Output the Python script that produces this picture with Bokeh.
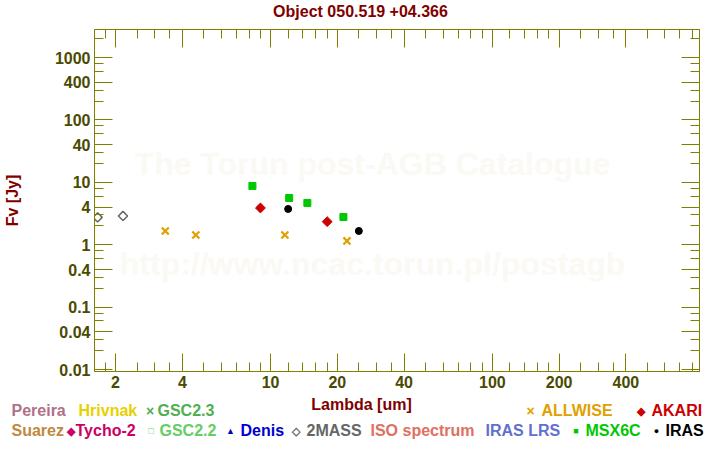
import math
from bokeh.plotting import figure
from bokeh.models import (Range1d, FixedTicker, LogAxis, Label, CustomJSTickFormatter,
                          ColumnDataSource)
from bokeh.layouts import column
from bokeh.core.properties import value
from bokeh.embed import file_html
from bokeh.resources import INLINE

# ---------------- data ----------------
twomass_wl = [1.66, 2.16]
twomass_flux = [2.74, 2.89]

allwise_wl = [3.35, 4.6, 11.6, 22.1]
allwise_flux = [1.66, 1.43, 1.43, 1.15]

akari_wl = [9.0, 18.0]
akari_flux = [3.88, 2.34]

msx_wl = [8.28, 12.13, 14.65, 21.3]
msx_flux = [8.74, 5.61, 4.67, 2.78]

iras_wl = [12.0, 25.0]
iras_flux = [3.74, 1.66]

x_major = [2, 4, 10, 20, 40, 100, 200, 400]
x_minor = [1.8, 2.5, 3, 3.5, 5, 6, 7, 8, 9, 12, 14, 16, 18, 25, 30, 35,
           50, 60, 70, 80, 90, 120, 140, 160, 180, 250, 300, 350,
           500, 600, 700, 800]
y_major = [0.01, 0.04, 0.1, 0.4, 1, 4, 10, 40, 100, 400, 1000]
y_minor = [0.02, 0.03, 0.06, 0.08, 0.2, 0.3, 0.6, 0.8, 2, 3, 6, 8,
           20, 30, 60, 80, 200, 300, 600, 800, 2000]

title_text = "Object 050.519 +04.366"
x_label = "Lambda [um]"
y_label = "Fv [Jy]"
watermark1 = "The Torun post-AGB Catalogue"
watermark2 = "http://www.ncac.torun.pl/postagb"

legend_row1 = ["Pereira", "Hrivnak", "GSC2.3", "ALLWISE", "AKARI"]
legend_row1_colors = ["#b07088", "#e8d000", "#50b050", "#e0a000", "#cc0000"]
legend_row2 = ["Suarez", "Tycho-2", "GSC2.2", "Denis", "2MASS", "ISO spectrum",
               "IRAS LRS", "MSX6C", "IRAS"]
legend_row2_colors = ["#c08840", "#cc0066", "#66cc66", "#0000cc", "#666666",
                      "#e07060", "#6070d0", "#00c800", "#000000"]

# ---------------- layout constants ----------------
W, H = 720, 450
TOP_H = 29            # title strip
BOT_H = 55            # legend strip
FL, FR, FT, FB = 92, 699, 29, 371   # frame edges in page pixels
MAIN_H = H - TOP_H - BOT_H

OLIVE = "#808000"
TICKLAB = "#4a4a00"
DARKRED = "#800000"
FONT = "Liberation Sans"


def no_align(f):
    try:
        f.frame_align = False
    except Exception:
        pass


def strip(height, y0):
    f = figure(width=W, height=height, x_range=Range1d(0, W),
               y_range=Range1d(y0 + height, y0), output_backend="svg",
               toolbar_location=None, title=None, min_border=0,
               min_border_left=0, min_border_right=0,
               min_border_top=0, min_border_bottom=0,
               x_axis_location=None, y_axis_location=None)
    f.outline_line_color = None
    f.xgrid.visible = False
    f.ygrid.visible = False
    f.background_fill_color = "white"
    f.border_fill_color = "white"
    no_align(f)
    return f


# ---------------- title strip ----------------
tfig = strip(TOP_H, 0)
tfig.text(x=[360], y=[11], text=[title_text], text_color=DARKRED,
          text_font=value(FONT), text_font_style="bold", text_font_size="16px",
          text_align="center", text_baseline="middle")

# ---------------- main plot ----------------
p = figure(width=W, height=MAIN_H, x_axis_type="log", y_axis_type="log",
           x_range=Range1d(1.607, 859), y_range=Range1d(0.00929, 2812),
           output_backend="svg", toolbar_location=None, title=None,
           min_border_left=FL, min_border_right=W - FR,
           min_border_top=0, min_border_bottom=MAIN_H - (FB - FT))
p.background_fill_color = "white"
p.border_fill_color = "white"
p.outline_line_color = OLIVE
p.xgrid.visible = False
p.ygrid.visible = False
no_align(p)


def style_axis(ax, major, minor, labels):
    ax.ticker = FixedTicker(ticks=major, minor_ticks=minor)
    ax.axis_line_color = OLIVE
    ax.axis_line_width = 1
    ax.major_tick_line_color = OLIVE
    ax.minor_tick_line_color = OLIVE
    ax.major_tick_in = 18
    ax.major_tick_out = 0
    ax.minor_tick_in = 9
    ax.minor_tick_out = 0
    ax.major_label_text_font = FONT
    ax.major_label_text_font_style = "bold"
    ax.major_label_text_color = TICKLAB
    if labels:
        ax.major_label_text_font_size = "16px"
        ax.major_label_standoff = 4
        ax.formatter = CustomJSTickFormatter(code="return String(tick);")
    else:
        ax.major_label_text_font_size = "0px"
        ax.major_label_standoff = 0
        ax.formatter = CustomJSTickFormatter(code="return '';")


style_axis(p.xaxis[0], x_major, x_minor, True)
style_axis(p.yaxis[0], y_major, y_minor, True)
yax = p.yaxis[0]
yax.axis_label = y_label
yax.axis_label_text_font = FONT
yax.axis_label_text_font_style = "bold"
yax.axis_label_text_font_size = "16px"
yax.axis_label_text_color = DARKRED
yax.axis_label_standoff = 31

top_ax = LogAxis()
right_ax = LogAxis()
style_axis(top_ax, x_major, x_minor, False)
style_axis(right_ax, y_major, y_minor, False)
p.add_layout(top_ax, "above")
p.add_layout(right_ax, "right")


def wlabel(text, cx, cy):
    lab = Label(x=cx - FL, y=FB - cy, x_units="screen", y_units="screen",
                text=text, text_color="#fbf9f4", text_font=FONT,
                text_font_style="bold", text_font_size="32px",
                text_align="center", text_baseline="middle", level="underlay")
    p.add_layout(lab)


wlabel(watermark1, 370, 163)
wlabel(watermark2, 370, 263)

# data
p.scatter(twomass_wl, twomass_flux, marker="square", angle=math.pi / 4,
          size=6.5, fill_color=None, line_color="#666666", line_width=1.5)
p.scatter(allwise_wl, allwise_flux, marker="x", size=10,
          line_color="#e0a000", line_width=2.2)
p.scatter(akari_wl, akari_flux, marker="square", angle=math.pi / 4,
          size=7, fill_color="#cc0000", line_color="#cc0000")
p.scatter(msx_wl, msx_flux, marker="square", size=7,
          fill_color="#00c800", line_color="#00c800")
p.scatter(iras_wl, iras_flux, marker="circle", size=7,
          fill_color="black", line_color="black")

# ---------------- legend strip ----------------
lfig = strip(BOT_H, H - BOT_H)
R1, R2 = 410, 430


def ltext(xs, ys, texts, colors, size="16px", align="left"):
    src = ColumnDataSource(dict(x=xs, y=ys, text=texts, color=colors))
    lfig.text(x="x", y="y", text="text", text_color="color", source=src,
              text_font=value(FONT), text_font_style="bold",
              text_font_size=size, text_align=align, text_baseline="middle")


ltext([361], [404], [x_label], [DARKRED], align="center")
ltext([11, 78, 157, 541, 651], [R1] * 5, legend_row1, legend_row1_colors)
ltext([11, 75, 159, 240, 306, 370, 485, 585, 665], [R2] * 9, legend_row2,
      legend_row2_colors)

# legend symbols
ltext([149.5, 530], [R1, R1], ["\u00d7", "\u00d7"], ["#50b050", "#e0a000"],
      size="14px", align="center")
ltext([640, 70, 295.5], [R1, R2, R2], ["\u25c6", "\u25c6", "\u25c7"],
      ["#cc0000", "#cc0066", "#666666"], size="11px", align="center")
ltext([150.5], [R2], ["\u25a1"], ["#66cc66"], size="9px", align="center")
ltext([230, 575.5, 656], [R2, R2, R2], ["\u25b2", "\u25a0", "\u25cf"],
      ["#0000cc", "#00c800", "#000000"], size="9px", align="center")

layout = column(tfig, p, lfig, spacing=0)
open("out.html", "w").write(file_html(layout, INLINE))
